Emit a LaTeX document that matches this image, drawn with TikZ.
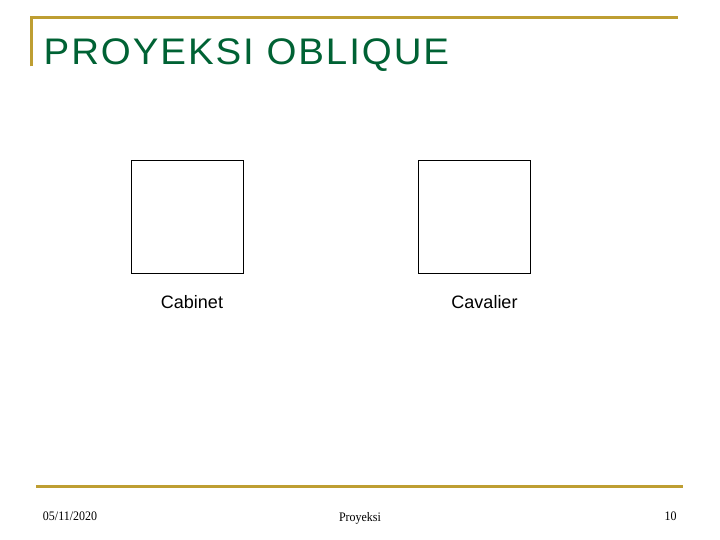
\documentclass[tikz,border=0pt]{standalone}
\usepackage{fontspec}
\setmainfont{Liberation Serif}
\newfontfamily\arialfont{Liberation Sans}
\newfontfamily\titlefont[LetterSpace=5]{Liberation Sans}
\definecolor{gold}{RGB}{190,158,50}
\definecolor{titlegreen}{RGB}{0,98,52}
\begin{document}
\begin{tikzpicture}[x=1pt,y=-1pt,
  goldline/.style={draw=gold,line width=3pt},
  sq/.style={draw=black,line width=1pt,minimum width=112pt,minimum height=112pt,inner sep=0pt},
  lab/.style={font=\arialfont\fontsize{18}{20}\selectfont,inner sep=0pt,anchor=base},
  foot/.style={font=\fontsize{13}{15}\selectfont,inner sep=0pt,anchor=base,xscale=0.92}]
\useasboundingbox (0,0) rectangle (720,540);
\fill[white] (0,0) rectangle (720,540);
% title frame
\coordinate (tl) at (31,66.5);
\coordinate (tc) at (31,18);
\coordinate (tr) at (678,18);
\draw[goldline] (tl) -- (tc) -- (tr);
\node[font=\titlefont\fontsize{37}{40}\selectfont,text=titlegreen,anchor=base west,inner sep=0pt,xscale=1.04] (title) at (43.5,64.3) {PROYEKSI OBLIQUE};
% squares
\node[sq] (cab) at (187,217) {};
\node[sq] (cav) at (474,217) {};
\node[lab] (cabl) at (192,308) {Cabinet};
\node[lab] (cavl) at (484.5,308) {Cavalier};
% footer
\coordinate (bl) at (36,486);
\coordinate (br) at (683,486);
\draw[goldline] (bl) -- (br);
\node[foot] (date) at (70,520.7) {05/11/2020};
\node[foot] (mid) at (360,521) {Proyeksi};
\node[foot] (num) at (670.5,520.5) {10};
\end{tikzpicture}
\end{document}
